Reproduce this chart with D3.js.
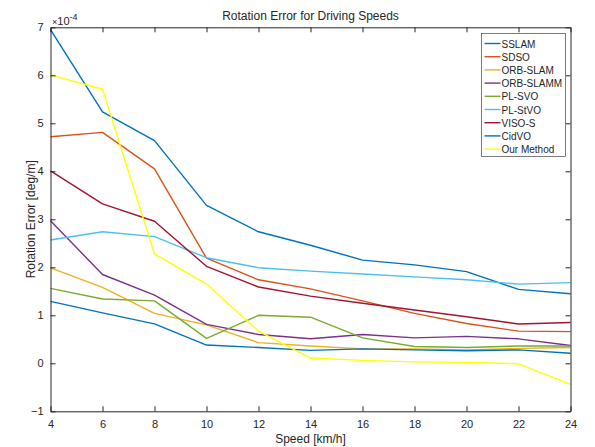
<!DOCTYPE html>
<html>
<head>
<meta charset="utf-8">
<script src="https://cdn.jsdelivr.net/npm/d3@7"></script>
<style>
  body { margin: 0; background: #fff; }
  svg text { font-family: "Liberation Sans", Arial, sans-serif; fill: #262626; }
</style>
</head>
<body>
<div id="chart"></div>
<script>
// speeds (km/h)
var speeds = [4, 6, 8, 10, 12, 14, 16, 18, 20, 22, 24];

// rotation error values, in units of 1e-4 deg/m
var sslam    = [6.95, 5.24, 4.64, 3.29, 2.74, 2.46, 2.15, 2.05, 1.91, 1.54, 1.45];
var sdso     = [4.72, 4.81, 4.05, 2.19, 1.74, 1.55, 1.30, 1.04, 0.83, 0.67, 0.66];
var orbSlam  = [1.99, 1.58, 1.04, 0.80, 0.43, 0.36, 0.30, 0.30, 0.28, 0.31, 0.33];
var orbSlamm = [2.97, 1.85, 1.42, 0.81, 0.60, 0.51, 0.60, 0.53, 0.56, 0.51, 0.37];
var plSvo    = [1.56, 1.34, 1.30, 0.52, 1.00, 0.96, 0.53, 0.35, 0.33, 0.36, 0.36];
var plStvo   = [2.57, 2.74, 2.64, 2.20, 1.99, 1.92, 1.86, 1.80, 1.74, 1.65, 1.68];
var visoS    = [4.01, 3.32, 2.96, 2.02, 1.59, 1.40, 1.25, 1.11, 0.97, 0.82, 0.85];
var cidVo    = [1.29, 1.05, 0.82, 0.38, 0.33, 0.27, 0.30, 0.28, 0.26, 0.28, 0.21];
var ourMethod = [6.01, 5.71, 2.28, 1.65, 0.67, 0.11, 0.06, 0.03, 0.02, -0.01, -0.44];

var seriesNames = ["SSLAM", "SDSO", "ORB-SLAM", "ORB-SLAMM", "PL-SVO", "PL-StVO", "VISO-S", "CidVO", "Our Method"];
var seriesValues = [sslam, sdso, orbSlam, orbSlamm, plSvo, plStvo, visoS, cidVo, ourMethod];
var seriesColors = ["#0072BD", "#D95319", "#EDB120", "#7E2F8E", "#77AC30", "#4DBEEE", "#A2142F", "#0072BD", "#FFFF00"];

var xTicks = [4, 6, 8, 10, 12, 14, 16, 18, 20, 22, 24];
var yTicks = [-1, 0, 1, 2, 3, 4, 5, 6, 7];

var svgWidth = 595;
var svgHeight = 447;

var margin = { top: 27.3, right: 24.5, bottom: 35.7, left: 50.5 };
var width = svgWidth - margin.left - margin.right;
var height = svgHeight - margin.top - margin.bottom;

var svg = d3.select("#chart")
    .append("svg")
    .attr("width", svgWidth)
    .attr("height", svgHeight);

var chartGroup = svg.append("g")
    .attr("transform", `translate(${margin.left}, ${margin.top})`);

var xScale = d3.scaleLinear().domain([4, 24]).range([0, width]);
var yScale = d3.scaleLinear().domain([-1, 7]).range([height, 0]);

// lines
var line = d3.line()
    .x((d, i) => xScale(speeds[i]))
    .y(d => yScale(d));

seriesValues.forEach(function(vals, k) {
    chartGroup.append("path")
        .datum(vals)
        .attr("d", line)
        .attr("fill", "none")
        .attr("stroke", seriesColors[k])
        .attr("stroke-width", 1.4)
        .attr("stroke-linejoin", "round");
});

// axes (MATLAB style: ticks inward, box on)
var axisColor = "#262626";
function styleAxis(g) {
    g.select(".domain").attr("stroke", axisColor).attr("stroke-width", 1);
    g.selectAll(".tick line").attr("stroke", axisColor);
    g.selectAll(".tick text").style("font-size", "11px").attr("fill", axisColor)
        .style("font-family", "Liberation Sans, Arial, sans-serif");
}

chartGroup.append("g")
    .attr("transform", `translate(0, ${height})`)
    .call(d3.axisBottom(xScale).tickValues(xTicks).tickSizeInner(-5).tickSizeOuter(0).tickPadding(9))
    .call(styleAxis);

chartGroup.append("g")
    .call(d3.axisTop(xScale).tickValues(xTicks).tickSizeInner(-5).tickSizeOuter(0).tickFormat(""))
    .call(styleAxis);

chartGroup.append("g")
    .call(d3.axisLeft(yScale).tickValues(yTicks).tickSizeInner(-5).tickSizeOuter(0).tickPadding(7))
    .call(styleAxis);

chartGroup.append("g")
    .attr("transform", `translate(${width}, 0)`)
    .call(d3.axisRight(yScale).tickValues(yTicks).tickSizeInner(-5).tickSizeOuter(0).tickFormat(""))
    .call(styleAxis);

// exponent label
var expText = chartGroup.append("text")
    .attr("x", 1.5)
    .attr("y", -2.5)
    .style("font-size", "11px");
expText.append("tspan").style("font-size", "9px").text("\u00d7");
expText.append("tspan").text("10");
expText.append("tspan").attr("dy", -5).style("font-size", "9px").text("-4");

// title
svg.append("text")
    .attr("x", margin.left + width / 2)
    .attr("y", 20)
    .attr("text-anchor", "middle")
    .style("font-size", "12px")
    .text("Rotation Error for Driving Speeds");

// axis labels
svg.append("text")
    .attr("x", margin.left + width / 2)
    .attr("y", 443)
    .attr("text-anchor", "middle")
    .style("font-size", "12px")
    .text("Speed [km/h]");

svg.append("text")
    .attr("transform", `translate(35, ${margin.top + height / 2}) rotate(-90)`)
    .attr("text-anchor", "middle")
    .style("font-size", "12px")
    .text("Rotation Error [deg/m]");

// legend
var legend = svg.append("g").attr("transform", "translate(481.5, 33.5)");
legend.append("rect")
    .attr("width", 84)
    .attr("height", 123)
    .attr("fill", "#fff")
    .attr("stroke", "#262626")
    .attr("stroke-width", 0.6);

seriesNames.forEach(function(name, k) {
    var yy = 10 + k * 13.2;
    legend.append("line")
        .attr("x1", 3).attr("x2", 19)
        .attr("y1", yy).attr("y2", yy)
        .attr("stroke", seriesColors[k])
        .attr("stroke-width", 1.4);
    legend.append("text")
        .attr("x", 20)
        .attr("y", yy + 4)
        .style("font-size", "10px")
        .attr("fill", "#000")
        .text(name);
});
</script>
</body>
</html>
